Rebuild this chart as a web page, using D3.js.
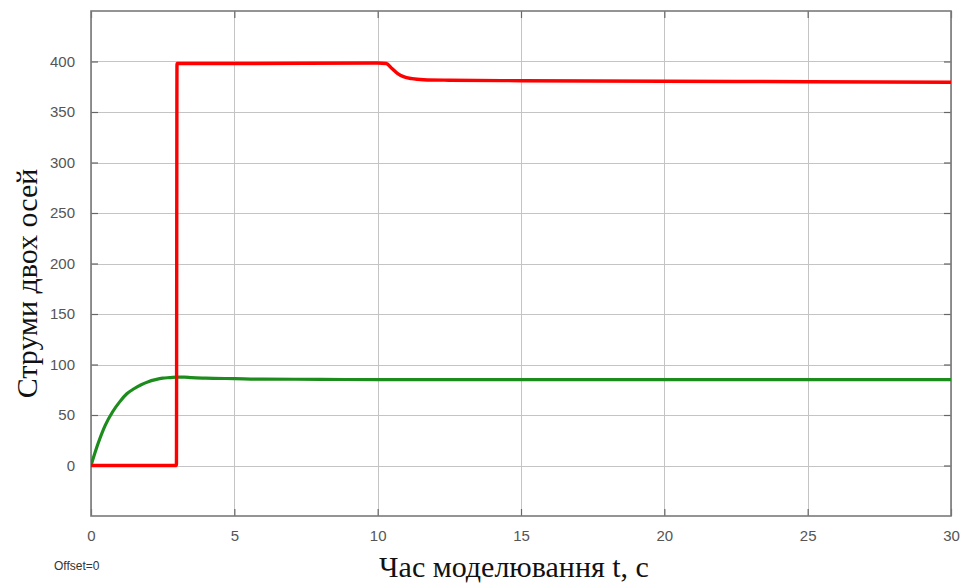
<!DOCTYPE html>
<html>
<head>
<meta charset="utf-8">
<script src="https://cdn.jsdelivr.net/npm/d3@7"></script>
<style>
  html, body { margin: 0; padding: 0; background: #fff; }
  svg { display: block; }
</style>
</head>
<body>
<svg id="chart" width="966" height="583"></svg>
<script>
// Time samples and currents of the two axes
const redT = [0, 2.98, 3.0, 3.05, 5, 10, 10.3, 10.5, 10.7, 10.9, 11.2, 11.6, 12.5, 15, 20, 25, 30];
const redV = [0, 0, 398, 398, 398, 398.5, 398, 393, 388, 385, 383, 382, 381.5, 381, 380.5, 380, 379.5];

const greenT = [0, 0.25, 0.5, 0.75, 1, 1.25, 1.5, 1.75, 2, 2.25, 2.5, 2.75, 3, 3.25, 3.5, 4, 5, 6, 8, 10, 15, 20, 25, 30];
const greenV = [0, 22, 40, 53, 63, 71, 76, 80, 83, 85, 86.5, 87, 87.5, 87.5, 87, 86.5, 86, 85.5, 85.3, 85, 85, 85, 85, 85];

const xTicks = [0, 5, 10, 15, 20, 25, 30];
const yTicks = [0, 50, 100, 150, 200, 250, 300, 350, 400];

const xTitle = "Час моделювання t, с";
const yTitle = "Струми двох осей";
const footnote = "Offset=0";

const svg = d3.select("#chart");
const pl = 91, pr = 951, pt = 11, pb = 516;

const x = d3.scaleLinear().domain([0, 30]).range([pl, pr]);
const y = d3.scaleLinear().domain([-50, 450]).range([pb, pt]);

// grid
const grid = svg.append("g").attr("stroke", "#c4c4c4").attr("stroke-width", 1);
xTicks.forEach(t => grid.append("line")
  .attr("x1", Math.round(x(t)) + 0.5).attr("x2", Math.round(x(t)) + 0.5)
  .attr("y1", pt).attr("y2", pb));
yTicks.forEach(v => grid.append("line")
  .attr("x1", pl).attr("x2", pr)
  .attr("y1", Math.round(y(v)) + 0.5).attr("y2", Math.round(y(v)) + 0.5));

// axes with inward ticks
const tickColor = "#666";
const axB = svg.append("g").attr("transform", `translate(0,${pb})`)
  .call(d3.axisBottom(x).tickValues(xTicks).tickSize(-7).tickPadding(14).tickFormat(d3.format("d")));
const axT = svg.append("g").attr("transform", `translate(0,${pt})`)
  .call(d3.axisTop(x).tickValues(xTicks).tickSize(-7).tickFormat(""));
const axL = svg.append("g").attr("transform", `translate(${pl},0)`)
  .call(d3.axisLeft(y).tickValues(yTicks).tickSize(-7).tickPadding(16).tickFormat(d3.format("d")));
const axR = svg.append("g").attr("transform", `translate(${pr},0)`)
  .call(d3.axisRight(y).tickValues(yTicks).tickSize(-7).tickFormat(""));

[axB, axT, axL, axR].forEach(a => {
  a.select(".domain").remove();
  a.selectAll(".tick line").attr("stroke", tickColor).attr("stroke-width", 1.2);
  a.selectAll(".tick text").attr("fill", "#555")
    .style("font-family", "'Liberation Sans', Arial, sans-serif").style("font-size", "15px");
});

// frame
svg.append("rect").attr("x", pl).attr("y", pt)
  .attr("width", pr - pl).attr("height", pb - pt)
  .attr("fill", "none").attr("stroke", "#7a7a7a").attr("stroke-width", 1.6);

// series
svg.append("clipPath").attr("id", "plotclip")
  .append("rect").attr("x", pl).attr("y", pt).attr("width", pr - pl).attr("height", pb - pt);

const line = d3.line().x(d => x(d[0])).y(d => y(d[1])).curve(d3.curveMonotoneX);

svg.append("path").datum(greenT.map((t, i) => [t, greenV[i]]))
  .attr("d", line).attr("fill", "none").attr("stroke", "#1c8c1c")
  .attr("stroke-width", 3.2).attr("clip-path", "url(#plotclip)");

svg.append("path").datum(redT.map((t, i) => [t, redV[i]]))
  .attr("d", line).attr("fill", "none").attr("stroke", "#ff0000")
  .attr("stroke-width", 3.4).attr("stroke-linejoin", "round").attr("clip-path", "url(#plotclip)");

// titles
svg.append("text").attr("x", 514).attr("y", 577).attr("text-anchor", "middle")
  .style("font-family", "'Liberation Serif', 'Times New Roman', serif").style("font-size", "30px")
  .attr("fill", "#111").text(xTitle);

svg.append("text").attr("transform", `translate(37,${(pt + pb) / 2 + 20}) rotate(-90)`)
  .attr("text-anchor", "middle")
  .style("font-family", "'Liberation Serif', 'Times New Roman', serif").style("font-size", "30px")
  .attr("fill", "#111").text(yTitle);

svg.append("text").attr("x", 54).attr("y", 570)
  .style("font-family", "'Liberation Sans', Arial, sans-serif").style("font-size", "12px")
  .attr("fill", "#333").text(footnote);
</script>
</body>
</html>
